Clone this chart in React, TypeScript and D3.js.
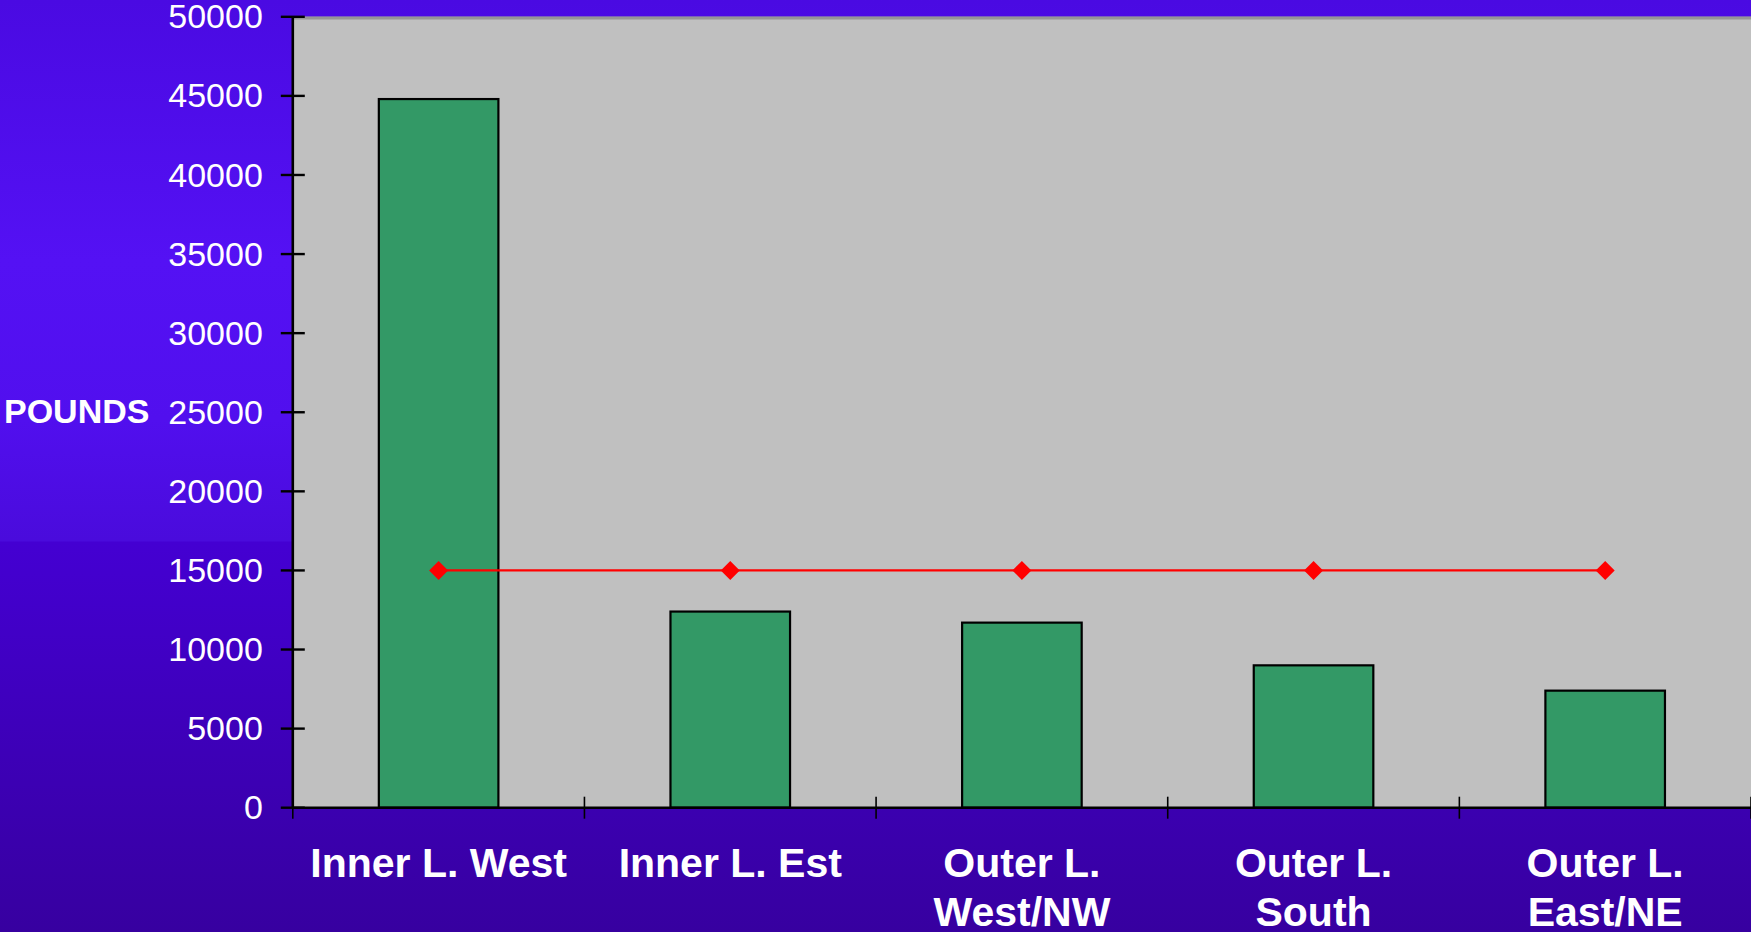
import React from "react";
import * as d3 from "d3";

const categories: string[][] = [
  ["Inner L. West"],
  ["Inner L. Est"],
  ["Outer L.", "West/NW"],
  ["Outer L.", "South"],
  ["Outer L.", "East/NE"],
];
const pounds: number[] = [44800, 12400, 11700, 9000, 7400];
const target: number[] = [15000, 15000, 15000, 15000, 15000];
const yTicks: number[] = [0, 5000, 10000, 15000, 20000, 25000, 30000, 35000, 40000, 45000, 50000];
const yAxisTitle = "POUNDS";

const W = 1751;
const H = 932;
const left = 292.8;
const right = 1751;
const top = 16.8;
const bottom = 807.7;

export default function App() {
  const keys = categories.map((c) => c.join(" "));
  const x = d3.scaleBand<string>().domain(keys).range([left, right]).paddingInner(0.59).paddingOuter(0.295);
  const step = x.step();
  const y = d3.scaleLinear().domain([0, 50000]).range([bottom, top]);
  const cx = (i: number) => (x(keys[i]) as number) + x.bandwidth() / 2;
  const line = d3
    .line<number>()
    .x((_, i) => cx(i))
    .y((d) => y(d));
  const font = "'Liberation Sans', Arial, Helvetica, sans-serif";
  const boundaries = d3.range(0, keys.length + 1).map((i) => left + i * step);

  return (
    <svg width={W} height={H} style={{ position: "absolute", left: 0, top: 0, display: "block" }}>
      <defs>
        <linearGradient id="bg" x1="0" y1="0" x2="0" y2="1">
          <stop offset="0" stopColor="#4a0ae2" />
          <stop offset="0.28" stopColor="#5411f4" />
          <stop offset="0.45" stopColor="#510fee" />
          <stop offset="0.58" stopColor="#4a0bdc" />
          <stop offset="0.582" stopColor="#4400d2" />
          <stop offset="1" stopColor="#3700a0" />
        </linearGradient>
      </defs>
      <rect x={0} y={0} width={W} height={H} fill="url(#bg)" />
      <rect x={left} y={top} width={right - left} height={bottom - top} fill="#c0c0c0" />
      <line x1={left} x2={right} y1={top + 1.2} y2={top + 1.2} stroke="#969696" strokeWidth={2.8} />

      {pounds.map((v, i) => (
        <rect
          key={keys[i]}
          x={x(keys[i])}
          y={y(v)}
          width={x.bandwidth()}
          height={y(0) - y(v)}
          fill="#339966"
          stroke="#000"
          strokeWidth={2.2}
        />
      ))}

      <path d={line(target) || ""} fill="none" stroke="#ff0000" strokeWidth={2.2} />
      {target.map((v, i) => {
        const px = cx(i);
        const py = y(v);
        const r = 9.5;
        return (
          <path
            key={"m" + i}
            d={`M${px},${py - r}L${px + r},${py}L${px},${py + r}L${px - r},${py}Z`}
            fill="#ff0000"
          />
        );
      })}

      <line x1={left} x2={left} y1={top} y2={bottom} stroke="#000" strokeWidth={2.6} />
      <line x1={left} x2={right} y1={bottom} y2={bottom} stroke="#000" strokeWidth={2.6} />
      {yTicks.map((t) => (
        <g key={t}>
          <line x1={left - 12} x2={left + 12} y1={y(t)} y2={y(t)} stroke="#000" strokeWidth={2.4} />
          <text
            x={left - 30}
            y={y(t)}
            dy="0.34em"
            textAnchor="end"
            fill="#fff"
            fontFamily={font}
            fontSize={34}
          >
            {t}
          </text>
        </g>
      ))}
      {boundaries.map((b, i) => (
        <line key={"b" + i} x1={b} x2={b} y1={bottom - 11} y2={bottom + 11} stroke="#000" strokeWidth={1.6} />
      ))}
      {categories.map((c, i) => (
        <text
          key={"c" + i}
          x={cx(i)}
          y={876.7}
          textAnchor="middle"
          fill="#fff"
          fontFamily={font}
          fontWeight="bold"
          fontSize={41}
        >
          {c.map((ln, j) => (
            <tspan key={j} x={cx(i)} dy={j === 0 ? 0 : 49}>
              {ln}
            </tspan>
          ))}
        </text>
      ))}
      <text x={4} y={422.7} fill="#fff" fontFamily={font} fontWeight="bold" fontSize={34}>
        {yAxisTitle}
      </text>
    </svg>
  );
}
